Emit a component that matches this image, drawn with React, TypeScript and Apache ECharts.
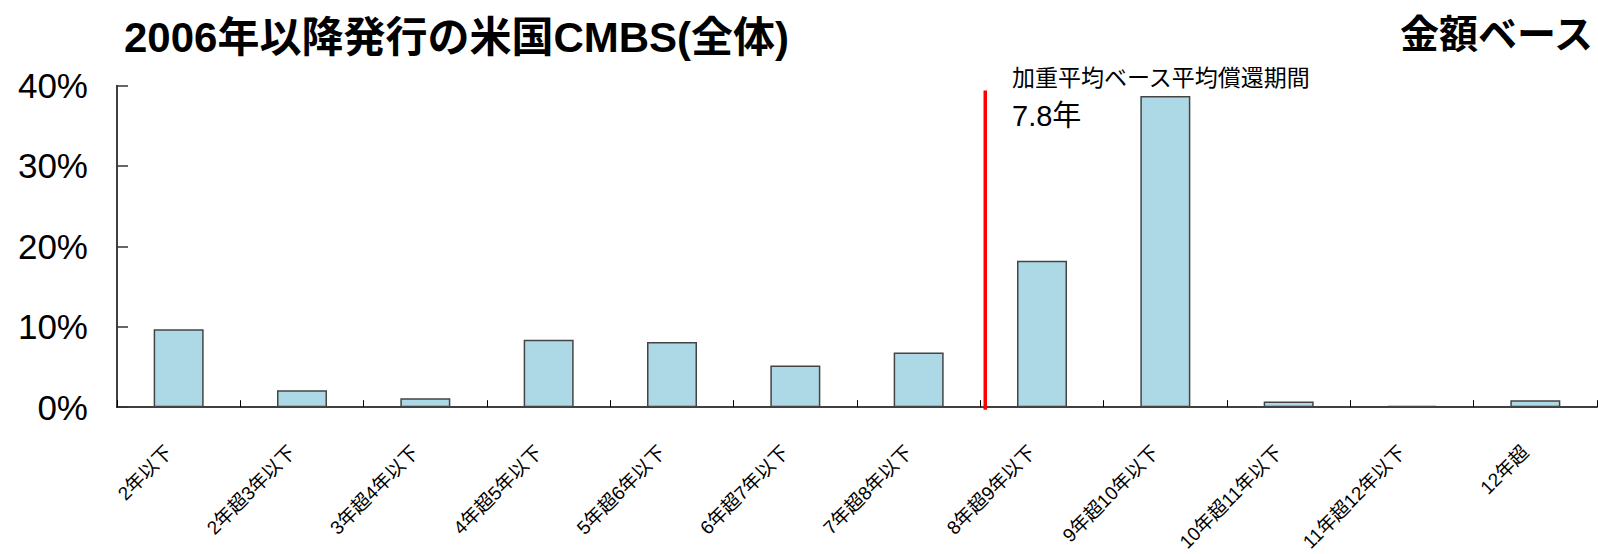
import React, { useEffect, useRef } from "react";
import * as echarts from "echarts";

// ---- data ----
const categories = [
  "2年以下",
  "2年超3年以下",
  "3年超4年以下",
  "4年超5年以下",
  "5年超6年以下",
  "6年超7年以下",
  "7年超8年以下",
  "8年超9年以下",
  "9年超10年以下",
  "10年超11年以下",
  "11年超12年以下",
  "12年超",
];
const shares = [9.7, 2.1, 1.1, 8.4, 8.1, 5.2, 6.8, 18.2, 38.7, 0.7, 0.15, 0.85];
const yMin = 0;
const yMax = 40;
const yInterval = 10;
// weighted average maturity marker, placed on the category index scale
const avgMarkerIndex = 7.04;
const avgMarkerTop = 39.4;
const avgMarkerBottom = -0.33;
const titleText = "2006年以降発行の米国CMBS(全体)";
const basisText = "金額ベース";
const avgLabel = "加重平均ベース平均償還期間";
const avgValueLabel = "7.8年";

const FONT = '"Liberation Sans", Arial, "Noto Sans CJK JP", sans-serif';

export default function App() {
  const ref = useRef<HTMLDivElement>(null);
  useEffect(() => {
    if (!ref.current) return;
    const chart = echarts.init(ref.current, null, { renderer: "svg" });
    chart.setOption({
      animation: false,
      backgroundColor: "#ffffff",
      grid: { left: 117, right: 1, top: 85.6, bottom: 146.7, containLabel: false },
      xAxis: [
        {
          type: "category",
          data: categories,
          boundaryGap: true,
          axisLine: { show: true, lineStyle: { color: "#000", width: 1.5 } },
          axisTick: { show: true, inside: true, length: 7, lineStyle: { color: "#000", width: 1 } },
          axisLabel: {
            interval: 0,
            rotate: 45,
            margin: 32,
            padding: [0, 14, 0, 0],
            fontSize: 19,
            color: "#000",
            fontFamily: FONT,
          },
          splitLine: { show: false },
        },
        { type: "value", min: 0, max: 12, show: false },
      ],
      yAxis: [
        {
          type: "value",
          min: yMin,
          max: yMax,
          interval: yInterval,
          axisLine: { show: true, lineStyle: { color: "#000", width: 1.5 } },
          axisTick: { show: true, inside: true, length: 11, lineStyle: { color: "#333", width: 1.5 } },
          axisLabel: {
            formatter: "{value}%",
            fontSize: 35,
            margin: 29,
            color: "#000",
            fontFamily: FONT,
          },
          splitLine: { show: false },
        },
      ],
      series: [
        {
          type: "bar",
          xAxisIndex: 0,
          yAxisIndex: 0,
          data: shares,
          barWidth: 50,
          itemStyle: { color: "#ADD8E6", borderColor: "#444", borderWidth: 1.5 },
        },
        {
          type: "line",
          xAxisIndex: 1,
          yAxisIndex: 0,
          clip: false,
          silent: true,
          symbol: "none",
          showSymbol: false,
          lineStyle: { color: "#FF0000", width: 3.5 },
          data: [
            [avgMarkerIndex, avgMarkerTop],
            [avgMarkerIndex, avgMarkerBottom],
          ],
        },
      ],
      graphic: [
        {
          type: "text",
          x: 124,
          y: 37,
          style: {
            text: titleText,
            fontSize: 42,
            fontWeight: "bold",
            fontFamily: FONT,
            fill: "#000",
            align: "left",
            verticalAlign: "middle",
          },
        },
        {
          type: "text",
          x: 1593,
          y: 34,
          style: {
            text: basisText,
            fontSize: 39,
            fontWeight: "bold",
            fontFamily: FONT,
            fill: "#000",
            align: "right",
            verticalAlign: "middle",
          },
        },
        {
          type: "text",
          x: 1012,
          y: 78,
          style: {
            text: avgLabel,
            fontSize: 23,
            fontFamily: FONT,
            fill: "#000",
            align: "left",
            verticalAlign: "middle",
          },
        },
        {
          type: "text",
          x: 1012,
          y: 116,
          style: {
            text: avgValueLabel,
            fontSize: 29,
            fontFamily: FONT,
            fill: "#000",
            align: "left",
            verticalAlign: "middle",
          },
        },
      ],
    });
    return () => chart.dispose();
  }, []);
  return (
    <div
      ref={ref}
      style={{ position: "absolute", left: 0, top: 0, width: 1598, height: 554, background: "#fff" }}
    />
  );
}
